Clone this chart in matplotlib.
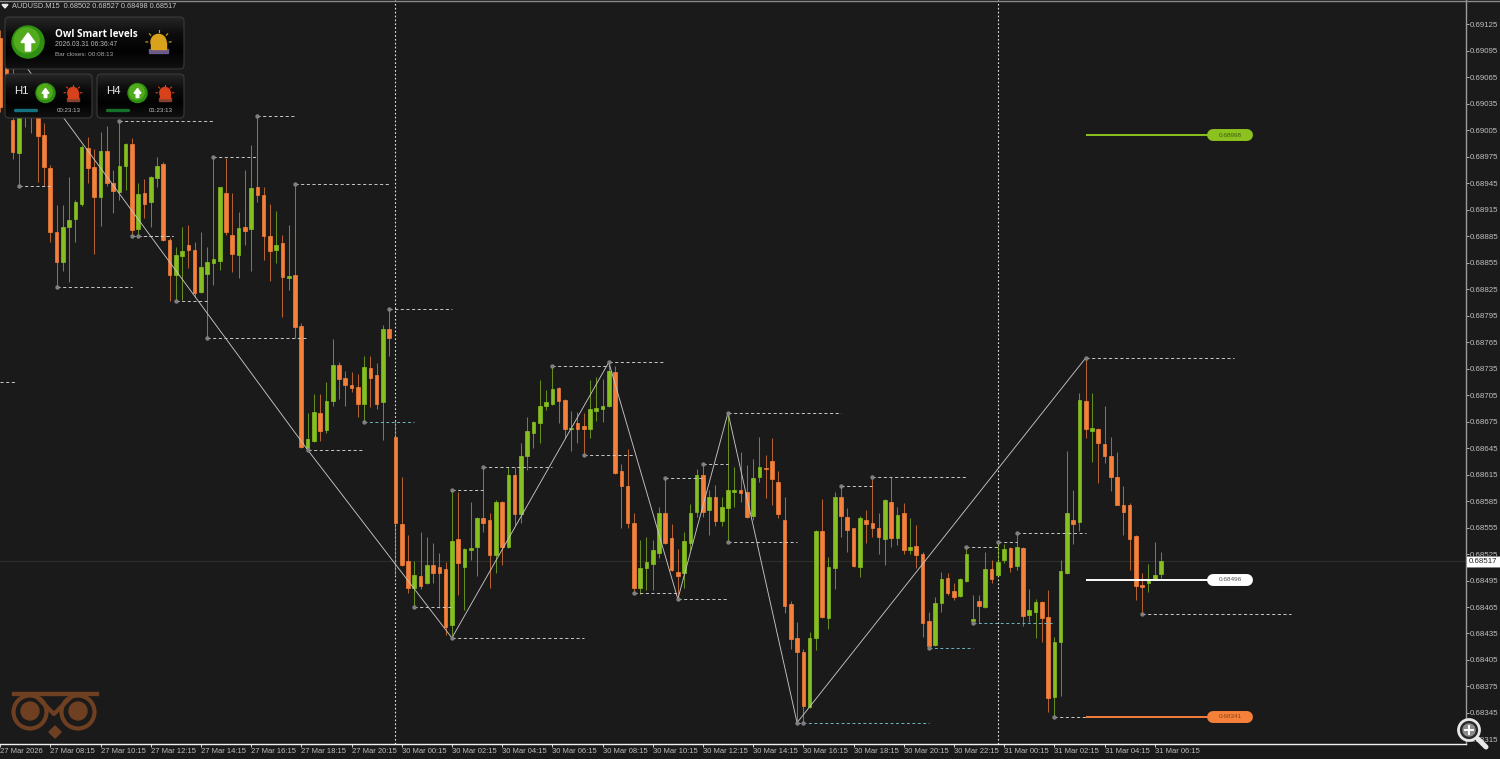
import numpy as np
import matplotlib
matplotlib.use('Agg')
import matplotlib.pyplot as plt
from matplotlib.patches import Circle, FancyBboxPatch, Polygon, Rectangle
from matplotlib.colors import LinearSegmentedColormap

# Candles, in points (1e-5 of a price)
opens = [
    69109, 69101, 69016, 68979, 69056, 69025, 69028, 68999, 68962, 68890,
    68856, 68895, 68904, 68921, 68985, 68963, 68929, 68981, 68945, 68935,
    68964, 68989, 68893, 68934, 68924, 68951, 68967, 68880, 68841, 68862,
    68875, 68869, 68822, 68842, 68855, 68857, 68934, 68886, 68864, 68895,
    68893, 68941, 68931, 68885, 68869, 68877, 68838, 68841, 68783, 68645,
    68653, 68685, 68665, 68698, 68739, 68724, 68716, 68714, 68695, 68736,
    68728, 68697, 68780, 68657, 68559, 68517, 68486, 68500, 68492, 68512,
    68510, 68508, 68445, 68542, 68510, 68529, 68533, 68566, 68563, 68524,
    68584, 68533, 68614, 68570, 68636, 68662, 68673, 68692, 68695, 68713,
    68699, 68667, 68673, 68670, 68666, 68687, 68689, 68692, 68731, 68619,
    68602, 68560, 68486, 68509, 68514, 68526, 68571, 68543, 68505, 68503,
    68537, 68572, 68615, 68575, 68589, 68562, 68577, 68595, 68598, 68595,
    68568, 68612, 68622, 68630, 68607, 68564, 68468, 68430, 68414, 68352,
    68430, 68551, 68452, 68509, 68590, 68567, 68554, 68510, 68563, 68560,
    68554, 68542, 68584, 68543, 68571, 68529, 68534, 68525, 68449, 68422,
    68469, 68498, 68483, 68477, 68494, 68449, 68472, 68465, 68508, 68501,
    68518, 68532, 68511, 68532, 68456, 68459, 68471, 68454, 68363, 68425,
    68503, 68564, 68561, 68698, 68664, 68667, 68650, 68636, 68612, 68581,
    68580, 68545, 68490, 68492, 68497, 68502]
highs = [
    69118, 69107, 69079, 69045, 69067, 69062, 69045, 69013, 68965, 68920,
    68920, 68952, 68926, 68988, 68997, 68983, 69003, 69010, 68960, 69015,
    68990, 68996, 68945, 68949, 68953, 68974, 68969, 68883, 68873, 68895,
    68898, 68878, 68890, 68872, 68974, 68941, 68973, 68934, 68912, 68960,
    68988, 69021, 68941, 68921, 68913, 68886, 68898, 68944, 68786, 68685,
    68706, 68706, 68720, 68768, 68742, 68732, 68731, 68729, 68749, 68749,
    68741, 68784, 68802, 68676, 68612, 68546, 68517, 68550, 68544, 68537,
    68526, 68516, 68597, 68595, 68532, 68584, 68567, 68623, 68571, 68586,
    68585, 68623, 68623, 68651, 68680, 68676, 68722, 68711, 68738, 68714,
    68700, 68687, 68686, 68685, 68722, 68725, 68723, 68742, 68738, 68627,
    68644, 68571, 68541, 68544, 68541, 68578, 68611, 68559, 68531, 68550,
    68582, 68621, 68627, 68597, 68603, 68589, 68685, 68623, 68641, 68626,
    68632, 68657, 68637, 68656, 68619, 68589, 68472, 68448, 68418, 68437,
    68552, 68587, 68522, 68595, 68602, 68577, 68555, 68568, 68575, 68612,
    68571, 68587, 68612, 68578, 68583, 68566, 68558, 68527, 68459, 68476,
    68505, 68503, 68492, 68498, 68533, 68479, 68479, 68527, 68518, 68539,
    68536, 68533, 68549, 68533, 68485, 68474, 68472, 68484, 68431, 68518,
    68642, 68597, 68707, 68747, 68707, 68668, 68693, 68657, 68640, 68602,
    68583, 68547, 68503, 68514, 68539, 68527]
lows = [
    69025, 69033, 68972, 68942, 69008, 69002, 68946, 68942, 68878, 68827,
    68845, 68833, 68878, 68919, 68945, 68865, 68896, 68942, 68911, 68926,
    68937, 68885, 68885, 68905, 68895, 68941, 68879, 68811, 68811, 68813,
    68849, 68816, 68820, 68769, 68830, 68847, 68886, 68844, 68838, 68875,
    68845, 68924, 68858, 68834, 68855, 68793, 68824, 68769, 68645, 68643,
    68652, 68653, 68662, 68692, 68701, 68692, 68708, 68680, 68675, 68691,
    68689, 68654, 68749, 68501, 68511, 68481, 68465, 68485, 68491, 68492,
    68464, 68433, 68430, 68479, 68462, 68518, 68500, 68550, 68486, 68503,
    68512, 68532, 68558, 68560, 68620, 68645, 68651, 68688, 68694, 68673,
    68656, 68642, 68651, 68637, 68656, 68676, 68674, 68691, 68616, 68555,
    68555, 68481, 68480, 68484, 68484, 68520, 68536, 68506, 68474, 68487,
    68529, 68567, 68567, 68547, 68557, 68557, 68539, 68578, 68584, 68566,
    68563, 68606, 68588, 68581, 68566, 68458, 68418, 68334, 68334, 68351,
    68416, 68453, 68440, 68485, 68544, 68527, 68510, 68499, 68537, 68544,
    68525, 68513, 68533, 68535, 68525, 68525, 68509, 68431, 68419, 68421,
    68459, 68479, 68473, 68476, 68493, 68447, 68447, 68464, 68492, 68500,
    68515, 68505, 68507, 68443, 68448, 68430, 68425, 68346, 68341, 68364,
    68502, 68536, 68551, 68656, 68629, 68605, 68628, 68596, 68580, 68546,
    68507, 68473, 68457, 68482, 68496, 68498]
closes = [
    69031, 69050, 68980, 69028, 69025, 69048, 68998, 68963, 68889, 68856,
    68895, 68903, 68923, 68986, 68962, 68929, 68981, 68945, 68936, 68964,
    68989, 68892, 68933, 68921, 68952, 68964, 68880, 68841, 68864, 68868,
    68869, 68821, 68850, 68856, 68859, 68940, 68890, 68865, 68894, 68891,
    68939, 68932, 68885, 68868, 68875, 68839, 68840, 68782, 68646, 68655,
    68686, 68664, 68698, 68739, 68723, 68716, 68713, 68695, 68737, 68724,
    68695, 68780, 68769, 68560, 68512, 68486, 68501, 68489, 68513, 68504,
    68504, 68442, 68540, 68515, 68531, 68532, 68566, 68560, 68524, 68584,
    68533, 68614, 68570, 68636, 68664, 68675, 68693, 68697, 68712, 68698,
    68666, 68668, 68667, 68666, 68689, 68690, 68693, 68732, 68617, 68602,
    68560, 68487, 68509, 68516, 68529, 68571, 68537, 68507, 68500, 68540,
    68571, 68615, 68572, 68589, 68562, 68578, 68597, 68598, 68594, 68567,
    68611, 68623, 68621, 68610, 68570, 68466, 68429, 68414, 68353, 68430,
    68551, 68454, 68510, 68589, 68568, 68552, 68511, 68566, 68559, 68554,
    68544, 68586, 68543, 68569, 68529, 68533, 68524, 68447, 68421, 68470,
    68497, 68481, 68476, 68497, 68525, 68451, 68466, 68508, 68497, 68516,
    68531, 68510, 68533, 68455, 68462, 68471, 68453, 68362, 68425, 68506,
    68571, 68559, 68699, 68666, 68668, 68651, 68636, 68612, 68581, 68573,
    68542, 68489, 68488, 68497, 68501, 68517]

# Zigzag turning points
zigzag_bars = [1, 49, 72, 97, 108, 116, 127, 173]
zigzag_prices = [69107, 68643, 68430, 68742, 68474, 68685, 68334, 68747]

# Swing levels: start bar, price, end bar
swing_bars = [3, 19, 41, 34, 47, 21, 22, 9, 28, 33, 49, 62, 66, 72, 72, 77, 88, 97, 93,
              101, 108, 106, 112, 116, 116, 127, 134, 139, 154, 159, 162, 168, 173, 182]
swing_prices = [68942, 69015, 69021, 68974, 68944, 68885, 68885, 68827, 68811, 68769,
                68643, 68802, 68465, 68430, 68597, 68623, 68738, 68742, 68637, 68481,
                68474, 68611, 68627, 68685, 68539, 68334, 68602, 68612, 68533, 68539,
                68549, 68341, 68747, 68457]
swing_ends = [8, 34, 47, 41, 62, 27.5, 27.5, 21, 33, 49, 58, 72, 72, 93, 77, 88, 97, 106,
              101, 108, 116, 112, 116, 134, 127, 128, 139, 154, 159, 162, 173, 173, 196.6,
              205.7]
teal_bars = [58, 128, 148, 155]
teal_prices = [68675, 68334, 68419, 68447]
teal_ends = [66, 148, 155, 168]

# Smart levels with their pills
level_prices = [68999, 68496, 68341]
level_texts = ['0.68998', '0.68496', '0.68341']
level_colors = ['#8cc21e', '#ffffff', '#f5803a']
level_text_colors = ['#3f5a12', '#555555', '#8a4416']

separator_bars = [63, 159]
last_price = 68517
price_ticks = list(range(69125, 68314, -30))
date_bars = list(range(0, 57, 8)) + list(range(64, 186, 8))
date_labels = ['27 Mar 2026', '27 Mar 08:15', '27 Mar 10:15', '27 Mar 12:15', '27 Mar 14:15',
               '27 Mar 16:15', '27 Mar 18:15', '27 Mar 20:15', '30 Mar 00:15', '30 Mar 02:15',
               '30 Mar 04:15', '30 Mar 06:15', '30 Mar 08:15', '30 Mar 10:15', '30 Mar 12:15',
               '30 Mar 14:15', '30 Mar 16:15', '30 Mar 18:15', '30 Mar 20:15', '30 Mar 22:15',
               '31 Mar 00:15', '31 Mar 02:15', '31 Mar 04:15', '31 Mar 06:15']

BG = '#1a1a1a'
GREEN = '#86bf20'
ORANGE = '#f5803a'
GREY = '#c8c8c8'
TEAL = '#6db4c4'
FONT = 'Liberation Sans'

o = np.array(opens) / 1e5
h = np.array(highs) / 1e5
l = np.array(lows) / 1e5
c = np.array(closes) / 1e5
bars = np.arange(len(o))
colors = np.where(c >= o, GREEN, ORANGE)

fig = plt.figure(figsize=(15, 7.59), dpi=100, facecolor=BG)
ax = fig.add_axes([0, 15 / 759, 1466 / 1500, 744 / 759], facecolor=BG)
ax.set_xlim(-0.016, 233.6)
ax.set_ylim(0.683099, 0.691522)

# Current price line and day separators
ax.axhline(last_price / 1e5, color='#2c2f2b', lw=0.8, zorder=1)
for b in separator_bars:
    ax.axvline(b, color='#e8e8e8', lw=0.8, ls=(0, (1.5, 2)), zorder=1)

# Candles
ax.vlines(bars, l, h, colors=colors, lw=0.75, alpha=0.7, zorder=2)
ax.bar(bars, np.abs(c - o), bottom=np.minimum(o, c), width=0.58, color=colors,
       edgecolor=colors, lw=0.5, zorder=3)

# Zigzag
ax.plot(zigzag_bars, np.array(zigzag_prices) / 1e5, color='#c4c4c4', lw=0.65, zorder=4)

# Swing levels
for b, p, e in zip(swing_bars, swing_prices, swing_ends):
    ax.plot([b, e], [p / 1e5, p / 1e5], color=GREY, lw=0.7, ls=(0, (3.2, 2.6)), zorder=4)
for b, p, e in zip(teal_bars, teal_prices, teal_ends):
    ax.plot([b, e], [p / 1e5, p / 1e5], color=TEAL, lw=0.7, ls=(0, (3, 2.6)), zorder=4)
ax.plot([0, 2.5], [0.6872, 0.6872], color=GREY, lw=0.7, ls=(0, (3.2, 2.6)), zorder=4)
ax.scatter(swing_bars + teal_bars, np.array(swing_prices + teal_prices) / 1e5, s=10,
           color='#808080', zorder=5, linewidths=0)

# Smart levels
for p, txt, col, tcol in zip(level_prices, level_texts, level_colors, level_text_colors):
    ax.plot([173, 193], [p / 1e5, p / 1e5], color=col, lw=1.4, zorder=5, solid_capstyle='butt')
    ax.plot([193.3, 198.7], [p / 1e5, p / 1e5], color=col, lw=8.6, zorder=6,
            solid_capstyle='round')
    ax.text(196.0, p / 1e5, txt, color=tcol, fontsize=4.6, family=FONT, ha='center',
            va='center', zorder=7)

# Axes look
for s in ['left', 'top']:
    ax.spines[s].set_visible(False)
ax.spines['right'].set_color('#9a9a9a')
ax.spines['bottom'].set_color('#f0f0f0')
ax.spines['right'].set_linewidth(1.0)
ax.spines['bottom'].set_linewidth(1.0)
ax.yaxis.tick_right()
ax.set_yticks(np.array(price_ticks) / 1e5)
ax.set_yticklabels(['%.5f' % (p / 1e5) for p in price_ticks])
ax.set_xticks(date_bars)
ax.set_xticklabels(date_labels, ha='left')
ax.tick_params(axis='y', length=2, width=0.7, color='#b0b0b0', labelsize=5.7, labelcolor='#c0c0c0', pad=1)
ax.tick_params(axis='x', length=2, width=0.7, color='#d0d0d0', labelsize=5.5, labelcolor='#c0c0c0', pad=1)
for t in ax.get_xticklabels() + ax.get_yticklabels():
    t.set_family(FONT)

# Last price tag on the scale
ax.add_patch(Rectangle((1.0, last_price / 1e5 - 0.000062), 0.024, 0.000124,
                       transform=ax.get_yaxis_transform(), facecolor='white', edgecolor='#808080',
                       lw=0.5, clip_on=False, zorder=8))
ax.text(1.002, last_price / 1e5, '%.5f' % (last_price / 1e5), transform=ax.get_yaxis_transform(),
        color='#222222', fontsize=5.7, family=FONT, va='center', ha='left', zorder=9)

# Screen furniture, drawn in pixels on top of the chart
ui = fig.add_axes([0, 0, 1, 1], facecolor='none', zorder=5)
ui.set_xlim(0, 1500)
ui.set_ylim(759, 0)
ui.axis('off')
ui.plot([0, 1500], [0.5, 0.5], color='#8a8a8a', lw=1)

ui.add_patch(Polygon([[2, 4.5], [8, 4.5], [5, 8]], color='#e8e8e8'))
ui.text(12, 6.5, 'AUDUSD.M15  0.68502 0.68527 0.68498 0.68517', color='#c8c8c8', fontsize=5.3,
        family=FONT, va='center', ha='left')

panel_cmap = LinearSegmentedColormap.from_list('panel', ['#262626', '#0c0c0c', '#020202', '#111111'])


def panel(x0, y0, x1, y1):
    box = FancyBboxPatch((x0 + 3, y0 + 3), x1 - x0 - 6, y1 - y0 - 6, boxstyle='round,pad=3,rounding_size=4',
                         facecolor='none', edgecolor='#3a3a3a', lw=0.8, zorder=6)
    ui.add_patch(box)
    im = ui.imshow(np.linspace(0, 1, 64).reshape(-1, 1), cmap=panel_cmap, extent=(x0, x1, y1, y0),
                   aspect='auto', zorder=5)
    im.set_clip_path(box)


def arrow_badge(cx, cy, r, s):
    ui.add_patch(Circle((cx, cy), r, color='#2f8f12', zorder=7))
    ui.add_patch(Circle((cx - r * 0.08, cy - r * 0.1), r * 0.78, color='#52ab1d', zorder=7))
    pts = [[cx, cy - 9 * s], [cx + 7 * s, cy + 0.5 * s], [cx + 2.6 * s, cy + 0.5 * s], [cx + 2.6 * s, cy + 9 * s],
           [cx - 2.6 * s, cy + 9 * s], [cx - 2.6 * s, cy + 0.5 * s], [cx - 7 * s, cy + 0.5 * s]]
    ui.add_patch(Polygon(pts, color='white', zorder=8))


def lamp(cx, cy, s, col, base):
    ui.add_patch(Rectangle((cx - 8 * s, cy + 5 * s), 16 * s, 4 * s, color=base, zorder=7))
    ui.add_patch(Rectangle((cx - 6.5 * s, cy - 1 * s), 13 * s, 6.5 * s, color=col, zorder=7))
    ui.add_patch(Circle((cx, cy - 1 * s), 6.5 * s, color=col, zorder=7))
    for dx, dy in [(0, -11), (-8, -8), (8, -8), (-11, -1), (11, -1)]:
        ui.plot([cx + dx * s * 0.85, cx + dx * s], [cy + dy * s * 0.85, cy + dy * s], color=col, lw=0.8, zorder=7)


panel(5, 17, 184, 69)
panel(5, 74, 92, 118)
panel(97, 74, 184, 118)

arrow_badge(28, 42, 16, 1.0)
lamp(158.5, 43, 1.15, '#d9a21b', '#6a5a8a')
ui.text(55, 34.5, 'Owl Smart levels', color='white', fontsize=7.1, family='Open Sans', weight='bold',
        va='center', ha='left', zorder=8)
ui.text(55, 44.5, '2026.03.31 06:36:47', color='#b8b8b8', fontsize=4.9, family=FONT, va='center', zorder=8)
ui.text(55, 55, 'Bar closes: 00:08:13', color='#a8a8a8', fontsize=4.6, family=FONT, va='center', zorder=8)

for x0, name, tlab, barcol in [(5, 'H1', '00:23:13', '#15707f'), (97, 'H4', '01:23:13', '#14702a')]:
    ui.text(x0 + 9, 91, name, color='#e8e8e8', fontsize=8.2, family=FONT, va='center', zorder=8)
    arrow_badge(x0 + 40.5, 93, 9.5, 0.5)
    lamp(x0 + 68, 93.5, 0.8, '#d8421a', '#8a4030')
    ui.plot([x0 + 10, x0 + 31], [110, 110], color=barcol, lw=2.4, solid_capstyle='round', zorder=8)
    ui.text(x0 + 52, 111, tlab, color='#c0c0c0', fontsize=4.4, family=FONT, va='center', zorder=8)

# Owl logo
OWL = '#6e3f20'
ui.add_patch(Rectangle((12, 691.5), 86, 3.5, color=OWL))
for cx in [30, 78]:
    ui.add_patch(Circle((cx, 712), 16.5, facecolor='none', edgecolor=OWL, lw=3.0))
    ui.add_patch(Circle((cx, 711), 9, color=OWL))
ui.plot([38, 54, 70], [698, 714, 698], color=OWL, lw=3.0)
ui.add_patch(Polygon([[55, 726], [61, 732], [55, 738], [49, 732]], color=OWL))

# Magnifier
ui.plot([1478, 1486], [739, 747], color='#e8e8e8', lw=3.6, solid_capstyle='round', zorder=9)
ui.add_patch(Circle((1469, 730), 10.5, facecolor='#2a2a2a', edgecolor='#e8e8e8', lw=2, zorder=9))
ui.add_patch(Circle((1469, 730), 6, color='#8c8c8c', zorder=10))
ui.plot([1465, 1473], [730, 730], color='white', lw=1.4, zorder=11)
ui.plot([1469, 1469], [726, 734], color='white', lw=1.4, zorder=11)

ui.set_xlim(0, 1500)
ui.set_ylim(759, 0)

fig.savefig('out.png', dpi=100, facecolor=BG)
